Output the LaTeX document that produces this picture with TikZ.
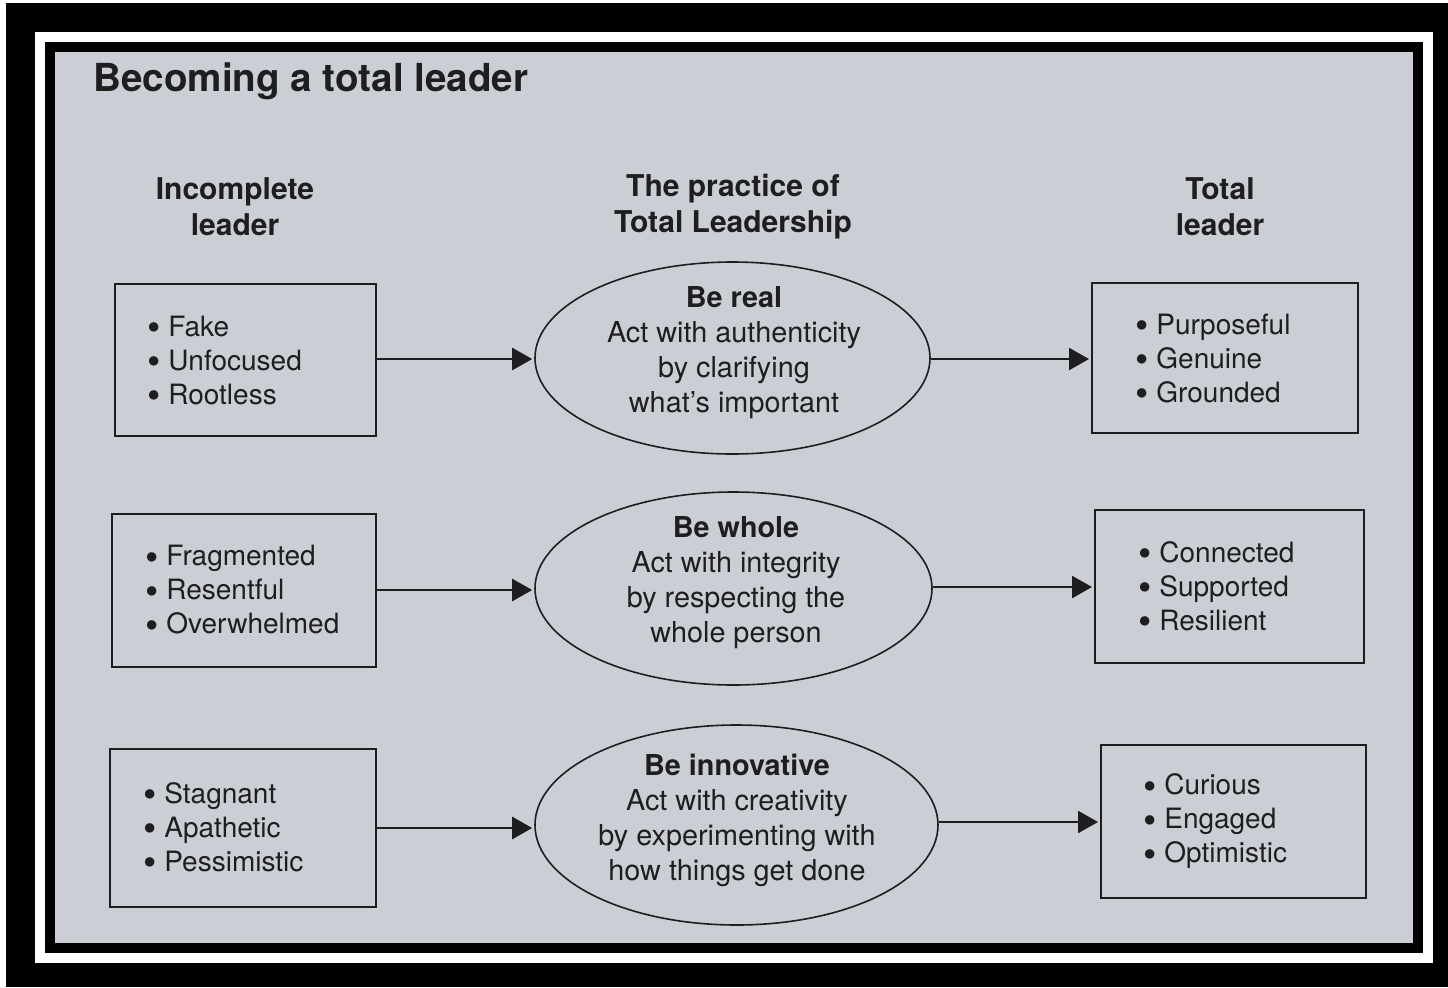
\documentclass[tikz,border=0pt]{standalone}
\usepackage{fontspec}
\setmainfont{TeX Gyre Heros}
\usetikzlibrary{shapes.geometric,arrows.meta}
\definecolor{pagebg}{RGB}{203,207,213}
\definecolor{ink}{RGB}{30,30,32}
\newcommand\mybul{\makebox[10.5pt][l]{\smash{\raisebox{-2.3pt}{\fontsize{19}{17}\selectfont\textbullet}}}}
\tikzset{
  box/.style={draw=ink, line width=1pt, rectangle, inner sep=0pt},
  oval/.style={draw=ink, line width=0.8pt, ellipse, inner sep=0pt},
  items/.style={text=ink, align=left, anchor=west, inner sep=0pt, font=\fontsize{14}{17}\selectfont},
  ovaltext/.style={text=ink, align=center, inner sep=0pt, font=\fontsize{14.4}{17.5}\selectfont},
  head/.style={text=ink, align=center, inner sep=0pt, font=\bfseries\fontsize{15}{18}\selectfont},
  link/.style={draw=ink, line width=1.3pt, -{Triangle[length=10pt,width=11pt]}, shorten >=1pt}
}
\begin{document}
\begin{tikzpicture}[x=0.5pt,y=-0.5pt]
\useasboundingbox (0,0) rectangle (1448,987);
% frame
\fill[white] (0,0) rectangle (1448,987);
\fill[black] (6,3) rectangle (1448,987);
\fill[white] (35,32) rectangle (1433,963);
\fill[black] (45,42) rectangle (1423,953);
\fill[pagebg] (55,52) rectangle (1413,943);
% title
\node[text=ink, anchor=base west, inner sep=0pt, font=\bfseries\fontsize{19.3}{23}\selectfont] (title) at (93,91) {Becoming a total leader};
% headers
\node[head] (h1) at (235,207) {Incomplete\\leader};
\node[head] (h2) at (733,207) {The practice of\\Total Leadership};
\node[head] (h3) at (1220,207) {Total\\leader};
% left boxes
\node[box, minimum width=130.5pt, minimum height=76pt] (l1) at (245.5,360) {};
\node[box, minimum width=132pt, minimum height=76.5pt] (l2) at (244,590.5) {};
\node[box, minimum width=133pt, minimum height=79pt] (l3) at (243,828) {};
\node[items] (l1t) at (147,360) {\mybul Fake\\\mybul Unfocused\\\mybul Rootless};
\node[items] (l2t) at (145,590) {\mybul Fragmented\\\mybul Resentful\\\mybul Overwhelmed};
\node[items] (l3t) at (143,827) {\mybul Stagnant\\\mybul Apathetic\\\mybul Pessimistic};
% ellipses
\node[oval, minimum width=197.5pt, minimum height=96pt] (e1) at (732.5,358) {};
\node[oval, minimum width=198.5pt, minimum height=96.5pt] (e2) at (733.5,588.5) {};
\node[oval, minimum width=201.5pt, minimum height=100pt] (e3) at (736.5,825) {};
\node[ovaltext] (e1t) at (734,353) {\textbf{Be real}\\Act with authenticity\\by clarifying\\what’s important};
\node[ovaltext] (e2t) at (736,583) {\textbf{Be whole}\\Act with integrity\\by respecting the\\whole person};
\node[ovaltext] (e3t) at (737,820) {\textbf{Be innovative}\\Act with creativity\\by experimenting with\\how things get done};
% right boxes
\node[box, minimum width=133pt, minimum height=75pt] (r1) at (1225,358) {};
\node[box, minimum width=134.5pt, minimum height=76.5pt] (r2) at (1229.5,586.5) {};
\node[box, minimum width=132.5pt, minimum height=76.5pt] (r3) at (1233.5,821.5) {};
\node[items] (r1t) at (1135,358) {\mybul Purposeful\\\mybul Genuine\\\mybul Grounded};
\node[items] (r2t) at (1138,586) {\mybul Connected\\\mybul Supported\\\mybul Resilient};
\node[items] (r3t) at (1143,821) {\mybul Curious\\\mybul Engaged\\\mybul Optimistic};
% connectors
\draw[link] (l1.east |- 0,359) -- (e1.west |- 0,359);
\draw[link] (l2.east |- 0,590) -- (e2.west |- 0,590);
\draw[link] (l3.east |- 0,828) -- (e3.west |- 0,828);
\draw[link] (e1.east |- 0,359) -- (r1.west |- 0,359);
\draw[link] (e2.east |- 0,587) -- (r2.west |- 0,587);
\draw[link] (e3.east |- 0,822) -- (r3.west |- 0,822);
\end{tikzpicture}
\end{document}
